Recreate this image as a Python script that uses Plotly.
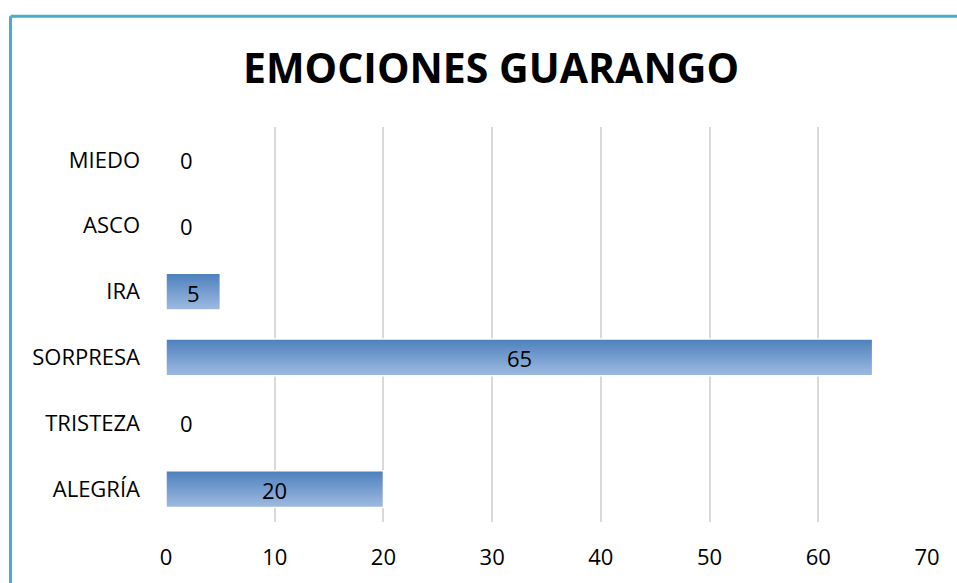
import plotly.graph_objects as go

categories = ["ALEGRÍA", "TRISTEZA", "SORPRESA", "IRA", "ASCO", "MIEDO"]
values = [20, 0, 65, 5, 0, 0]
x_ticks = [0, 10, 20, 30, 40, 50, 60, 70]
title_text = "EMOCIONES GUARANGO"

FONT = "Open Sans"
bar_w = 0.56
n_slices = 20
top_rgb = (79, 129, 189)
bot_rgb = (156, 186, 224)

fig = go.Figure()
for i in range(n_slices):
    t = i / (n_slices - 1)  # 0 bottom -> 1 top
    c = tuple(round(b + (tp - b) * t) for b, tp in zip(bot_rgb, top_rgb))
    off = -bar_w / 2 + i * bar_w / n_slices
    fig.add_trace(go.Bar(
        y=categories, x=values, orientation="h",
        width=bar_w / 2 - off,
        offset=off,
        marker=dict(color="rgb(%d,%d,%d)" % c, line=dict(width=0)),
        hoverinfo="skip", showlegend=False,
    ))
# outline
fig.add_trace(go.Bar(
    y=categories, x=values, orientation="h", width=bar_w, offset=-bar_w / 2,
    marker=dict(color="rgba(0,0,0,0)", line=dict(color="white", width=1.5)),
    showlegend=False, hoverinfo="skip",
))

LBL = 22
annotations = []
for cat, v in zip(categories, values):
    if v > 0:
        annotations.append(dict(x=v / 2, y=cat, text=str(v), showarrow=False,
                                xanchor="center", yanchor="middle", yshift=-1,
                                font=dict(family=FONT, size=LBL, color="black")))
    else:
        annotations.append(dict(x=0, y=cat, text=str(v), showarrow=False,
                                xanchor="left", yanchor="middle", xshift=12,
                                font=dict(family=FONT, size=LBL, color="black")))

border = "#4BACC6"
shapes = [
    dict(type="line", xref="paper", yref="paper", x0=-0.2043, x1=1.06, y0=1.2802, y1=1.2802,
         line=dict(color=border, width=3)),
    dict(type="line", xref="paper", yref="paper", x0=-0.2043, x1=-0.2043, y0=1.2802, y1=-0.2,
         line=dict(color=border, width=3)),
]

fig.update_layout(
    width=957, height=583,
    margin=dict(l=166, r=30, t=127, b=58),
    paper_bgcolor="white", plot_bgcolor="white",
    barmode="overlay",
    title=dict(text="<b>%s</b>" % title_text, x=491 / 957, xref="container", xanchor="center",
               y=1 - 69 / 583, yref="container", yanchor="middle",
               font=dict(family=FONT, size=41, color="black")),
    xaxis=dict(range=[0, 70], tickvals=x_ticks, showgrid=True, gridcolor="#D9D9D9",
               gridwidth=2, zeroline=False, showline=False, ticks="",
               tickfont=dict(family=FONT, size=LBL, color="black"), ticklabelstandoff=20),
    yaxis=dict(categoryorder="array", categoryarray=categories, showgrid=False,
               zeroline=False, showline=False, ticks="", ticklabelstandoff=25,
               tickfont=dict(family=FONT, size=LBL, color="black")),
    annotations=annotations, shapes=shapes,
)
fig.write_html("out.html")
